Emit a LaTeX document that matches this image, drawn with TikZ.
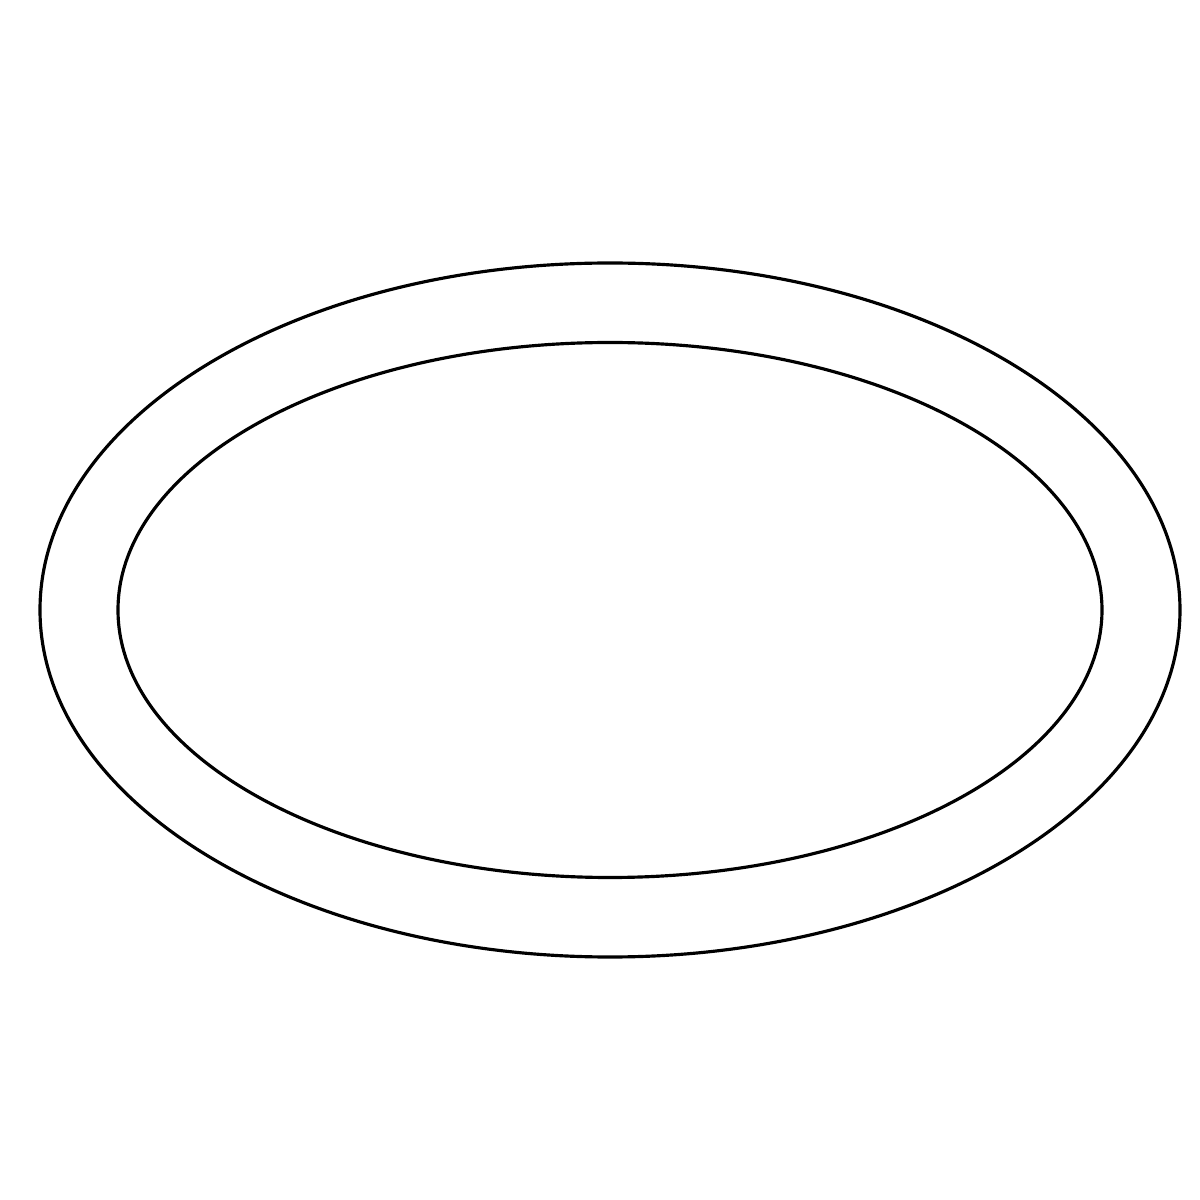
\documentclass[tikz,border=0pt]{standalone}
\usepackage{tikz}

\begin{document}
\begin{tikzpicture}[x=1cm, y=1cm]
    \useasboundingbox (0,0) rectangle (12,12);
    \draw[line width=0.9pt] (6.1,5.9) ellipse [x radius=5.7, y radius=3.47];
    \draw[line width=0.9pt] (6.1,5.9) ellipse [x radius=4.92, y radius=2.675];
  \end{tikzpicture}
\end{document}
